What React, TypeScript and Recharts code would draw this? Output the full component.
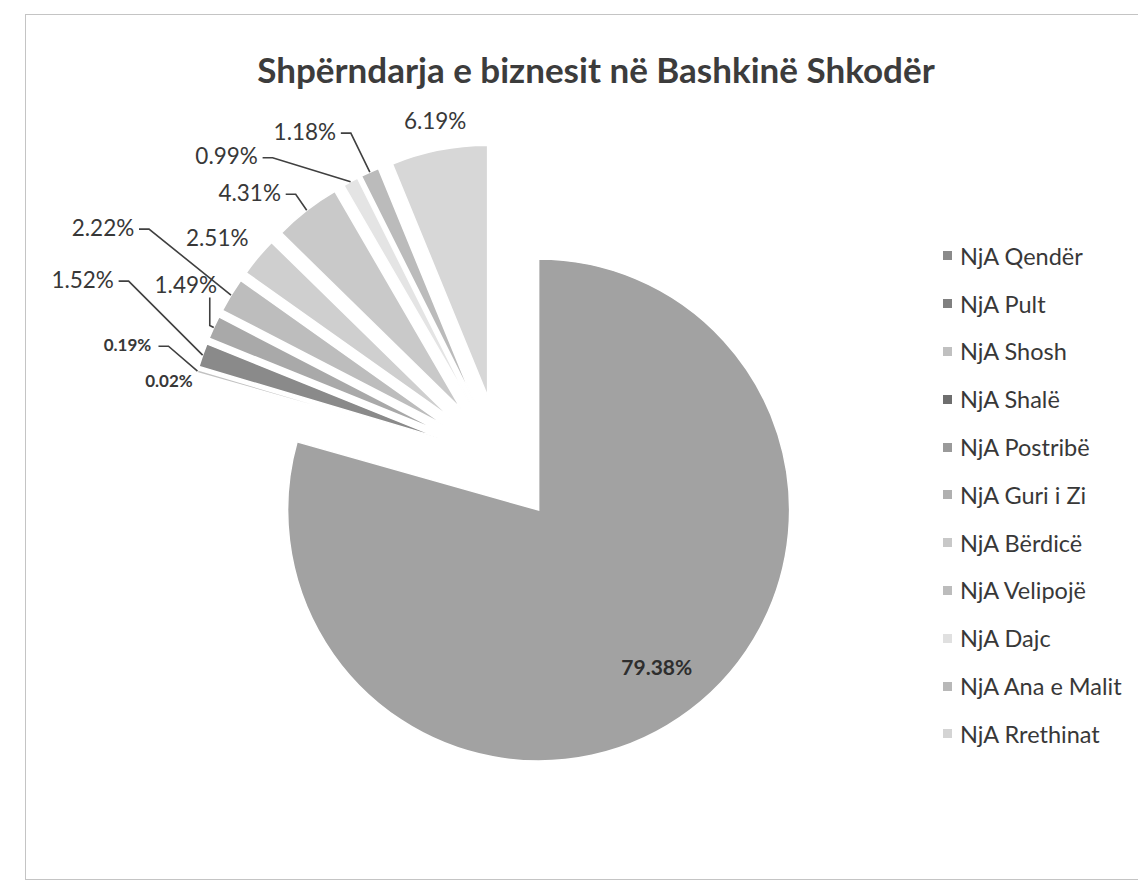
import React from 'react';
import { PieChart, Pie, Cell, Legend, Sector } from 'recharts';

const categories = [
  'NjA Qendër',
  'NjA Pult',
  'NjA Shosh',
  'NjA Shalë',
  'NjA Postribë',
  'NjA Guri i Zi',
  'NjA Bërdicë',
  'NjA Velipojë',
  'NjA Dajc',
  'NjA Ana e Malit',
  'NjA Rrethinat',
];
const shares = [79.38, 0.02, 0.19, 1.52, 1.49, 2.22, 2.51, 4.31, 0.99, 1.18, 6.19];
const sliceColors = ['#a2a2a2', '#7e7e7e', '#c2c2c2', '#8a8a8a', '#a9a9a9', '#bdbdbd', '#cfcfcf', '#c9c9c9', '#e4e4e4', '#bbbbbb', '#d7d7d7'];
const legendColors = ['#8a8a8a', '#808080', '#c0c0c0', '#6e6e6e', '#9a9a9a', '#b0b0b0', '#c8c8c8', '#bcbcbc', '#e0e0e0', '#b8b8b8', '#d4d4d4'];
// label offset from the outer mid-point of each exploded slice (Excel "best fit" placement)
const labelNudges: [number, number][] = [
  [0, 0],
  [-28, 7],
  [-70, -27],
  [-120, -76],
  [-28, -43],
  [-128, -68],
  [-41, -20],
  [-57, -18],
  [-124, -26],
  [-65, -41],
  [-4, -29],
];

const data = categories.map((name, i) => ({ name, value: shares[i] }));

const RAD = Math.PI / 180;
const EXPLODE = 64;
const FONT = 'Lato, "Open Sans", sans-serif';
const TEXT = '#383838';

function renderSlice(props: any) {
  const { cx, cy, outerRadius, startAngle, endAngle, index } = props;
  const mid = (startAngle + endAngle) / 2;
  const ux = Math.cos(-mid * RAD);
  const uy = Math.sin(-mid * RAD);
  const vx = cx + EXPLODE * ux;
  const vy = cy + EXPLODE * uy;
  const ax = vx + outerRadius * ux;
  const ay = vy + outerRadius * uy;
  const txt = `${shares[index].toFixed(2)}%`;
  const sector = (
    <Sector
      cx={vx}
      cy={vy}
      innerRadius={0}
      outerRadius={outerRadius}
      startAngle={startAngle}
      endAngle={endAngle}
      fill={sliceColors[index]}
      stroke="#ffffff"
      strokeWidth={1.5}
    />
  );
  if (shares[index] > 50) {
    const lx = vx + outerRadius * 0.78 * ux;
    const ly = vy + outerRadius * 0.78 * uy;
    return (
      <g key={`s-${index}`}>
        {sector}
        <text x={lx} y={ly} textAnchor="middle" dominantBaseline="central" fontFamily={FONT} fontSize={21} fontWeight={700} fill="#2e2e2e">
          {txt}
        </text>
      </g>
    );
  }
  const small = shares[index] < 0.5;
  const fs = small ? 17 : 22.5;
  const halfW = small ? 26 : 31;
  const lx = ax + labelNudges[index][0];
  const ly = ay + labelNudges[index][1];
  const dist = Math.hypot(ax - lx, ay - ly);
  let leader: React.ReactNode = null;
  if (dist > 50) {
    let pts: string;
    if (ax > lx + halfW) {
      pts = `${lx + halfW + 5},${ly + 2} ${lx + halfW + 15},${ly + 2} ${ax},${ay}`;
    } else {
      pts = `${ax - 4},${ly + 13} ${ax - 4},${ay - 2} ${ax},${ay}`;
    }
    leader = <polyline points={pts} fill="none" stroke="#404040" strokeWidth={1.6} />;
  }
  return (
    <g key={`s-${index}`}>
      {sector}
      {leader}
      <text x={lx} y={ly} textAnchor="middle" dominantBaseline="central" fontFamily={FONT} fontSize={fs} fontWeight={small ? 700 : 400} fill={TEXT}>
        {txt}
      </text>
    </g>
  );
}

function renderLegend(props: any) {
  const payload = props.payload || [];
  const ordered = [...payload].sort(
    (a: any, b: any) => categories.indexOf(a.value) - categories.indexOf(b.value)
  );
  return (
    <div style={{ fontFamily: FONT }}>
      {ordered.map((entry: any) => {
        const i = categories.indexOf(entry.value);
        return (
          <div key={`l-${i}`} style={{ height: 47.8, display: 'flex', alignItems: 'center' }}>
            <span style={{ display: 'inline-block', width: 9, height: 9, background: legendColors[i], marginRight: 8 }} />
            <span style={{ fontSize: 23.5, color: TEXT, whiteSpace: 'nowrap' }}>{entry.value}</span>
          </div>
        );
      })}
    </div>
  );
}

export default function App() {
  return (
    <div style={{ position: 'relative', width: 1138, height: 872, background: '#fff' }}>
      <div style={{ position: 'absolute', left: 17, top: 6, width: 1114, height: 864, border: '1px solid #c4c4c4' }} />
      <div
        style={{
          position: 'absolute',
          left: 138,
          top: 41,
          width: 900,
          textAlign: 'center',
          fontFamily: FONT,
          fontWeight: 700,
          fontSize: 35,
          lineHeight: '40px',
          color: '#3c3c3c',
        }}
      >
        Shpërndarja e biznesit në Bashkinë Shkodër
      </div>
      <div style={{ position: 'absolute', left: 0, top: 0 }}>
        <PieChart width={1138} height={872}>
          <Pie
            data={data}
            dataKey="value"
            nameKey="name"
            cx={487}
            cy={446}
            innerRadius={0}
            outerRadius={251}
            startAngle={90}
            endAngle={-270}
            fillOpacity={0}
            stroke="none"
            isAnimationActive={false}
            labelLine={false}
            label={renderSlice}
          >
            {data.map((d, i) => (
              <Cell key={`c-${i}`} fill={sliceColors[i]} />
            ))}
          </Pie>
          <Legend
            layout="vertical"
            align="right"
            verticalAlign="top"
            itemSorter={null as any}
            content={renderLegend}
            wrapperStyle={{ left: 935, top: 224, width: 205, right: 'auto' }}
          />
        </PieChart>
      </div>
    </div>
  );
}
